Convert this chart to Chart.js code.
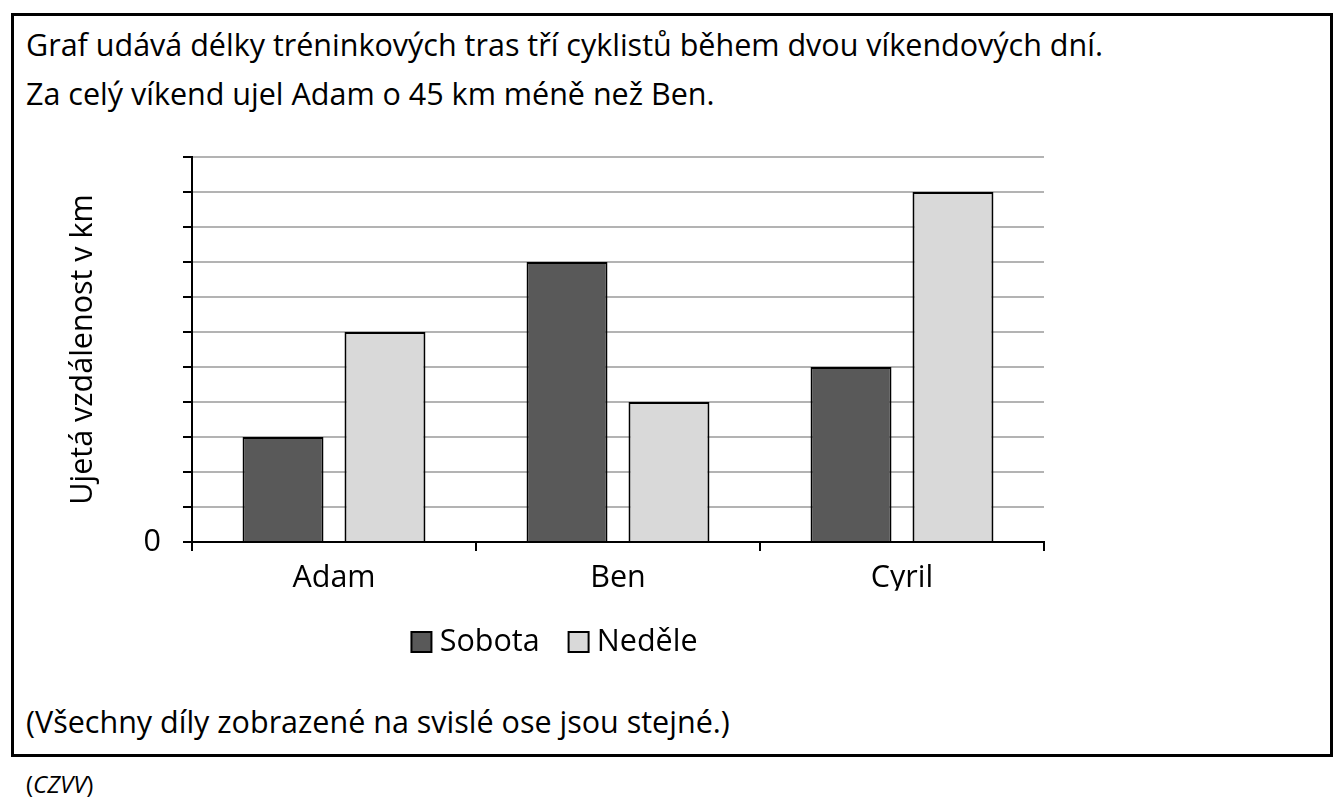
<!DOCTYPE html>
<html lang="cs">
<head>
<meta charset="utf-8">
<script src="https://cdn.jsdelivr.net/npm/chart.js@4"></script>
<style>
  html, body { margin: 0; padding: 0; background: #fff; }
  body { width: 1342px; height: 806px; position: relative; overflow: hidden; font-family: 'Open Sans', sans-serif; color: #000; }
  #frame { position: absolute; left: 11px; top: 13px; width: 1322px; height: 744px; box-sizing: border-box; border: 3px solid #000; }
  .txt { position: absolute; left: 26px; font-size: 30.5px; line-height: 30.5px; white-space: nowrap; }
  #src { position: absolute; left: 26px; top: 772px; font-size: 24px; line-height: 24px; white-space: nowrap; }
  #chart { position: absolute; left: 0; top: 0; }
</style>
</head>
<body>
<div id="frame"></div>
<div class="txt" style="top:29px">Graf udává délky tréninkových tras tří cyklistů během dvou víkendových dní.</div>
<div class="txt" style="top:78px">Za celý víkend ujel Adam o 45 km méně než Ben.</div>
<div class="txt" style="top:706px">(Všechny díly zobrazené na svislé ose jsou stejné.)</div>
<div id="src">(<i>CZVV</i>)</div>
<canvas id="chart" width="1342" height="806"></canvas>
<script>
const categories = ['Adam', 'Ben', 'Cyril'];
const seriesNames = ['Sobota', 'Neděle'];
const sobota = [45, 120, 75];
const nedele = [90, 60, 150];
const yTitle = 'Ujetá vzdálenost v km';
const yMin = 0, yMax = 165, yStep = 15;
const shownTicks = [0];

const FONT = "'Open Sans', sans-serif";
const FS = 30.5;
Chart.defaults.font.family = FONT;
Chart.defaults.color = '#000';

new Chart(document.getElementById('chart'), {
  type: 'bar',
  data: {
    labels: categories,
    datasets: [
      { label: seriesNames[0], data: sobota, backgroundColor: '#595959', borderColor: '#000', borderWidth: 2, pointStyle: 'rect' },
      { label: seriesNames[1], data: nedele, backgroundColor: '#d9d9d9', borderColor: '#000', borderWidth: 2, pointStyle: 'rect' }
    ]
  },
  options: {
    responsive: false,
    animation: false,
    categoryPercentage: 0.718,
    barPercentage: 0.794,
    layout: { padding: { left: 72, right: 298, top: 157, bottom: 138.75 } },
    plugins: {
      tooltip: { enabled: false },
      legend: {
        position: 'bottom',
        align: 'center',
        labels: { usePointStyle: true, boxWidth: 6, boxHeight: 20, padding: 36, color: '#000', font: { size: FS } }
      }
    },
    scales: {
      x: {
        afterFit: s => { s.height = 48.75; },
        grid: { display: true, drawOnChartArea: false, drawTicks: true, tickLength: 9, color: '#000', lineWidth: 2, offset: true },
        border: { display: true, color: '#000', width: 2 },
        ticks: { color: '#000', font: { size: FS }, padding: 9 }
      },
      y: {
        min: yMin, max: yMax,
        afterFit: s => { s.width = 120; },
        grid: { color: '#b3b3b3', lineWidth: 2, tickColor: '#000', tickLength: 9, drawTicks: true },
        border: { display: true, color: '#000', width: 2 },
        ticks: {
          stepSize: yStep, autoSkip: false, color: '#000', font: { size: FS }, padding: 22,
          callback: v => shownTicks.includes(v) ? String(v) : ''
        },
        title: { display: true, text: yTitle, color: '#000', font: { size: FS }, padding: { top: -7, bottom: 0 } }
      }
    }
  }
});
</script>
</body>
</html>
